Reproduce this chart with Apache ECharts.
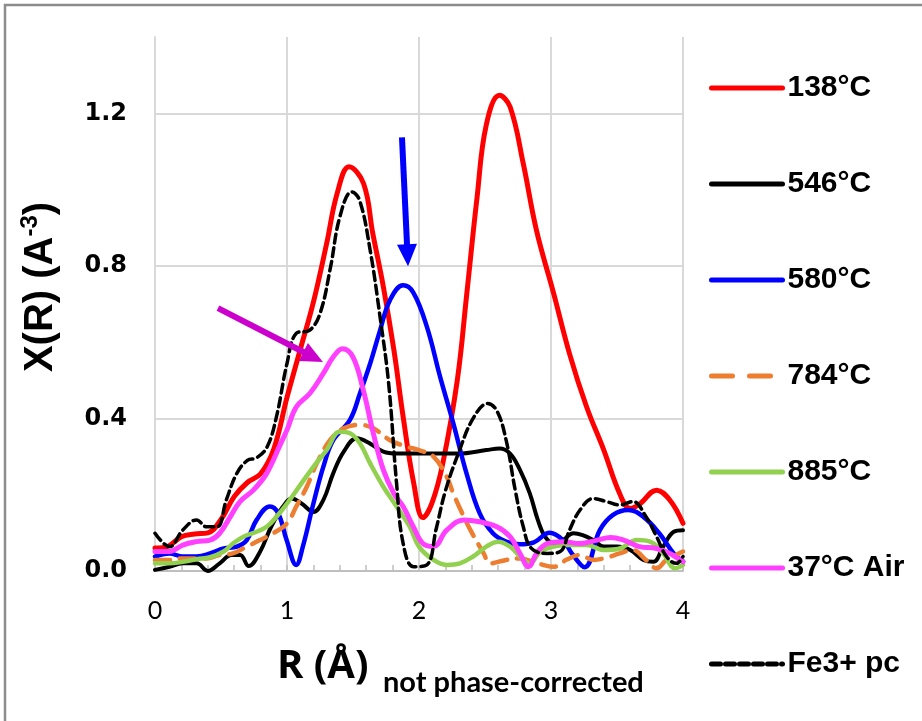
<!DOCTYPE html>
<html>
<head>
<meta charset="utf-8">
<script src="https://cdn.jsdelivr.net/npm/echarts@6/dist/echarts.min.js"></script>
<style>html,body{margin:0;padding:0;background:#fff;}#c{width:922px;height:721px;}</style>
</head>
<body>
<div id="c"></div>
<script>
// ---- data (R in Å, X(R) in Å^-3) ----
const names = ['138°C', '546°C', '580°C', '784°C', '885°C', '37°C Air', 'Fe3+ pc'];

const r138 = [0,0.1,0.2,0.3,0.4,0.5,0.6,0.7,0.8,0.9,1.0,1.1,1.2,1.3,1.38,1.47,1.58,1.65,1.73,1.81,1.88,1.96,2.03,2.1,2.18,2.29,2.36,2.44,2.51,2.61,2.69,2.79,2.89,3.02,3.14,3.27,3.4,3.52,3.6,3.67,3.8,3.9,4.0];
const v138 = [0.06,0.065,0.09,0.097,0.10,0.135,0.195,0.232,0.255,0.32,0.455,0.58,0.705,0.858,0.99,1.06,1.016,0.885,0.745,0.579,0.404,0.23,0.14,0.18,0.282,0.50,0.72,0.98,1.17,1.247,1.217,1.068,0.893,0.728,0.57,0.43,0.317,0.203,0.164,0.175,0.212,0.186,0.125];

const r546 = [0,0.11,0.21,0.315,0.4,0.49,0.58,0.645,0.71,0.795,0.88,0.97,1.035,1.11,1.2,1.275,1.35,1.43,1.53,1.63,1.73,1.83,2.0,2.3,2.51,2.61,2.69,2.765,2.84,2.9,2.955,3.02,3.09,3.17,3.24,3.32,3.4,3.5,3.6,3.7,3.775,3.85,3.93,4.0];
const v546 = [0.003,0.011,0.02,0.02,0.0,0.02,0.042,0.042,0.013,0.05,0.116,0.169,0.19,0.177,0.155,0.186,0.256,0.313,0.348,0.334,0.313,0.308,0.308,0.308,0.317,0.321,0.308,0.265,0.203,0.134,0.09,0.072,0.081,0.099,0.094,0.081,0.064,0.064,0.055,0.029,0.024,0.064,0.103,0.107];

const r580 = [0,0.11,0.21,0.315,0.417,0.52,0.62,0.695,0.77,0.87,0.934,0.997,1.07,1.12,1.2,1.275,1.35,1.477,1.553,1.63,1.705,1.78,1.88,1.957,2.06,2.16,2.26,2.36,2.46,2.56,2.66,2.765,2.87,2.99,3.09,3.16,3.255,3.37,3.47,3.585,3.7,3.82,3.93,4.0];
const v580 = [0.038,0.046,0.038,0.038,0.046,0.059,0.064,0.081,0.134,0.169,0.151,0.081,0.016,0.064,0.177,0.273,0.343,0.396,0.466,0.544,0.631,0.71,0.749,0.73,0.64,0.509,0.387,0.256,0.151,0.099,0.077,0.07,0.075,0.10,0.081,0.045,0.01,0.107,0.147,0.16,0.142,0.099,0.046,0.025];

const r784 = [0,0.11,0.21,0.39,0.49,0.59,0.695,0.795,0.896,1.0,1.07,1.15,1.225,1.326,1.43,1.553,1.654,1.78,1.906,2.0,2.11,2.21,2.26,2.34,2.39,2.49,2.54,2.66,2.765,2.9,3.02,3.12,3.22,3.32,3.42,3.52,3.62,3.72,3.8,3.875,4.0];
const v784 = [0.029,0.029,0.033,0.033,0.042,0.046,0.064,0.081,0.099,0.125,0.169,0.221,0.282,0.343,0.374,0.383,0.374,0.343,0.326,0.317,0.30,0.247,0.203,0.142,0.107,0.046,0.02,0.029,0.033,0.02,0.011,0.03,0.042,0.029,0.035,0.046,0.055,0.029,0.007,0.029,0.051];

const r885 = [0,0.11,0.21,0.315,0.417,0.52,0.59,0.67,0.77,0.846,0.92,1.0,1.1,1.2,1.3,1.4,1.477,1.553,1.63,1.73,1.83,1.93,2.0,2.11,2.21,2.31,2.41,2.51,2.6,2.69,2.765,2.84,2.92,3.02,3.14,3.27,3.4,3.52,3.65,3.75,3.85,3.94,4.0];
const v885 = [0.02,0.02,0.024,0.031,0.036,0.051,0.072,0.09,0.103,0.116,0.142,0.177,0.225,0.273,0.317,0.365,0.361,0.334,0.282,0.221,0.169,0.116,0.064,0.029,0.016,0.02,0.038,0.064,0.077,0.064,0.038,0.02,0.051,0.064,0.068,0.068,0.055,0.059,0.081,0.077,0.046,0.007,0.016];

const r37 = [0,0.11,0.21,0.315,0.417,0.49,0.57,0.644,0.745,0.846,0.947,1.0,1.07,1.174,1.275,1.35,1.42,1.5,1.578,1.654,1.73,1.81,1.88,1.957,2.03,2.11,2.21,2.34,2.46,2.59,2.69,2.765,2.83,2.89,2.97,3.09,3.22,3.35,3.45,3.55,3.67,3.8,3.9,4.0];
const v37 = [0.051,0.051,0.068,0.077,0.081,0.099,0.142,0.182,0.212,0.256,0.33,0.37,0.43,0.466,0.518,0.561,0.583,0.561,0.474,0.361,0.265,0.203,0.169,0.116,0.072,0.064,0.107,0.134,0.129,0.116,0.09,0.046,0.011,0.046,0.072,0.077,0.072,0.081,0.088,0.081,0.064,0.059,0.046,0.024];

const rFe = [0,0.11,0.21,0.315,0.39,0.47,0.54,0.62,0.7,0.77,0.85,0.92,1.0,1.07,1.17,1.25,1.33,1.4,1.49,1.55,1.63,1.705,1.77,1.83,1.88,1.96,2.06,2.13,2.2,2.3,2.41,2.52,2.59,2.66,2.73,2.79,2.85,2.97,3.07,3.14,3.22,3.32,3.42,3.52,3.62,3.72,3.8,3.875,3.95,4.0];
const vFe = [0.099,0.064,0.107,0.134,0.116,0.116,0.186,0.256,0.29,0.297,0.326,0.404,0.544,0.623,0.631,0.675,0.797,0.928,0.994,0.972,0.841,0.666,0.492,0.23,0.072,0.011,0.016,0.11,0.21,0.31,0.40,0.439,0.42,0.343,0.21,0.116,0.06,0.046,0.051,0.107,0.16,0.19,0.182,0.173,0.182,0.142,0.09,0.038,0.02,0.038];

const xTicks = [0, 1, 2, 3, 4];
const yTicks = [0.0, 0.4, 0.8, 1.2];

// annotation arrows, in data coordinates [R, X(R)]
const blueArrow = [[1.871, 1.137], [1.913, 0.828]];
const magentaArrow = [[0.477, 0.689], [1.198, 0.561]];

// ---- styles ----
const styles = [
  {color: '#ff0000', width: 5, type: 'solid', legendType: 'solid'},
  {color: '#000000', width: 4, type: 'solid', legendType: 'solid'},
  {color: '#0000ff', width: 4.5, type: 'solid', legendType: 'solid'},
  {color: '#ed7d31', width: 4.5, type: [15, 10], legendType: [21, 17]},
  {color: '#92d050', width: 4.5, type: 'solid', legendType: 'solid'},
  {color: '#ff40ff', width: 5, type: 'solid', legendType: 'solid'},
  {color: '#000000', width: 3.5, type: [9, 5], legendType: [9, 5]}
];
const rs = [r138, r546, r580, r784, r885, r37, rFe];
const vs = [v138, v546, v580, v784, v885, v37, vFe];

const series = names.map((n, i) => ({
  name: n, type: 'line', smooth: 0.4, symbol: 'none', showSymbol: false,
  clip: false,
  color: styles[i].color,
  lineStyle: {color: styles[i].color, width: styles[i].width, type: styles[i].type, cap: 'round', join: 'round'},
  data: rs[i].map((r, k) => [r, vs[i][k]])
}));
function arrowLine(pts, color) {
  return {
    silent: true, symbol: ['none', 'triangle'], symbolSize: [20, 22], animation: false,
    label: {show: false}, emphasis: {disabled: true},
    lineStyle: {color: color, width: 6, type: 'solid'},
    itemStyle: {color: color},
    data: [[{coord: pts[0]}, {coord: pts[1]}]]
  };
}
series[2].markLine = arrowLine(blueArrow, '#0000ff');
series[5].markLine = arrowLine(magentaArrow, '#cc00cc');

const chart = echarts.init(document.getElementById('c'), null, {renderer: 'canvas'});
chart.setOption({
  animation: false,
  backgroundColor: '#ffffff',
  grid: {left: 155, right: 239, top: 37, bottom: 150, containLabel: false},
  xAxis: {
    type: 'value', min: xTicks[0], max: xTicks[xTicks.length - 1], interval: 1,
    axisLine: {show: true, onZero: false, lineStyle: {color: '#bfbfbf', width: 2}},
    axisTick: {show: true, inside: true, length: 6, lineStyle: {color: '#bfbfbf', width: 1.5}},
    minorTick: {show: true, splitNumber: 5, length: 6, lineStyle: {color: '#bfbfbf', width: 1.5}},
    splitLine: {show: true, lineStyle: {color: '#d9d9d9', width: 2}},
    axisLabel: {margin: 27, fontFamily: 'Lato', fontSize: 25, color: '#000', formatter: v => String(v)}
  },
  yAxis: {
    type: 'value', min: 0, max: 1.4, interval: 0.4,
    axisLine: {show: true, lineStyle: {color: '#d9d9d9', width: 2}},
    axisTick: {show: false},
    splitLine: {show: true, lineStyle: {color: ['#d9d9d9', '#d9d9d9', '#d9d9d9', '#d9d9d9', 'rgba(0,0,0,0)'], width: 2}},
    axisLabel: {showMaxLabel: false, margin: 28, fontFamily: 'DejaVu Sans', fontWeight: 'bold', fontSize: 24, color: '#000',
      formatter: v => (yTicks.some(t => Math.abs(t - v) < 1e-6) ? v.toFixed(1) : '')}
  },
  legend: {
    orient: 'vertical', left: 704, top: 68, itemWidth: 71, itemHeight: 30, itemGap: 66,
    textStyle: {fontFamily: 'Liberation Sans', fontWeight: 'bold', fontSize: 30, lineHeight: 30, color: '#000'},
    data: names.map((n, i) => ({
      name: n,
      itemStyle: {opacity: 0},
      lineStyle: {width: 5, color: styles[i].color, type: styles[i].legendType, cap: 'round'}
    }))
  },
  graphic: [
    {type: 'rect', shape: {x: 5, y: 5, width: 2000, height: 2000}, style: {fill: 'none', stroke: '#8c8c8c', lineWidth: 2.5}, silent: true, z: 100},
    {type: 'text', x: 41, y: 287, rotation: Math.PI / 2, silent: true,
      style: {text: '{a|X(R) (A}{s|-3}{a|)}', align: 'center', verticalAlign: 'middle',
        rich: {a: {fontFamily: 'Liberation Sans', fontWeight: 'bold', fontSize: 40, fill: '#000', lineHeight: 46},
               s: {fontFamily: 'Liberation Sans', fontWeight: 'bold', fontSize: 24, fill: '#000', verticalAlign: 'top', lineHeight: 24}}}},
    {type: 'text', x: 277, y: 667, silent: true,
      style: {text: 'R (Å)', fontFamily: 'Open Sans', fontWeight: 'bold', fontSize: 40, fill: '#000', align: 'left', verticalAlign: 'middle'}},
    {type: 'text', x: 383, y: 683, silent: true,
      style: {text: 'not phase-corrected', fontFamily: 'Lato', fontWeight: 'bold', fontSize: 29, fill: '#000', align: 'left', verticalAlign: 'middle'}}
  ],
  series: series
});
</script>
</body>
</html>
